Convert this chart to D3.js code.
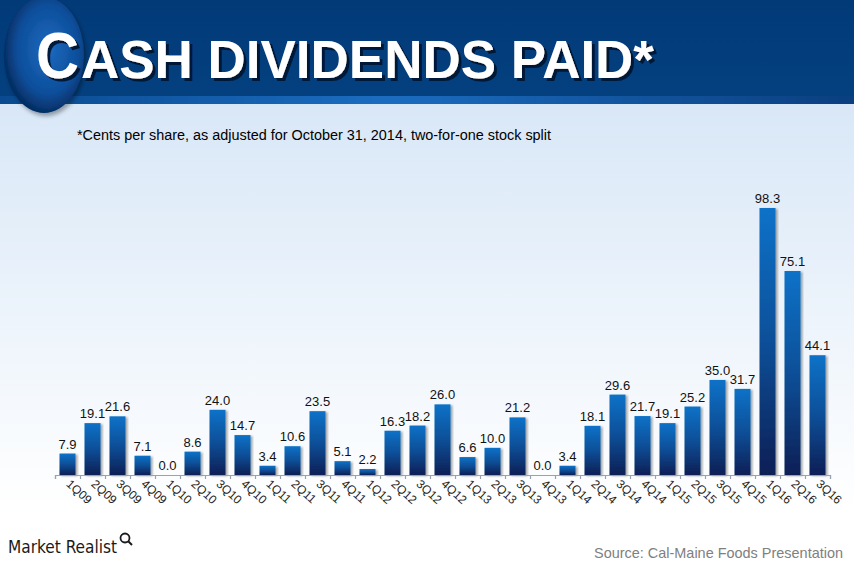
<!DOCTYPE html>
<html><head><meta charset="utf-8">
<script src="https://cdn.jsdelivr.net/npm/d3@7"></script>
<style>body{margin:0;padding:0;overflow:hidden;background:#fff}</style>
</head><body><svg id="chart" width="854" height="570"></svg>
<script>
const categories = ["1Q09","2Q09","3Q09","4Q09","1Q10","2Q10","3Q10","4Q10","1Q11","2Q11","3Q11","4Q11","1Q12","2Q12","3Q12","4Q12","1Q13","2Q13","3Q13","4Q13","1Q14","2Q14","3Q14","4Q14","1Q15","2Q15","3Q15","4Q15","1Q16","2Q16","3Q16"];
const values = [7.9,19.1,21.6,7.1,0.0,8.6,24.0,14.7,3.4,10.6,23.5,5.1,2.2,16.3,18.2,26.0,6.6,10.0,21.2,0.0,3.4,18.1,29.6,21.7,19.1,25.2,35.0,31.7,98.3,75.1,44.1];
const titleFirst = "C";
const titleRest = "ASH DIVIDENDS PAID*";
const subtitle = "*Cents per share, as adjusted for October 31, 2014, two-for-one stock split";
const source = "Source: Cal-Maine Foods Presentation";
const brand = "Market Realist";

const svg = d3.select("#chart");
const defs = svg.append("defs");

const bg = defs.append("linearGradient").attr("id","bg").attr("x1",0).attr("y1",0).attr("x2",0).attr("y2",1);
bg.append("stop").attr("offset","0%").attr("stop-color","#d8e7f7");
bg.append("stop").attr("offset","100%").attr("stop-color","#ffffff");

const hdr = defs.append("linearGradient").attr("id","hdr").attr("x1",0).attr("y1",0).attr("x2",0).attr("y2",1);
hdr.append("stop").attr("offset","0%").attr("stop-color","#023a78");
hdr.append("stop").attr("offset","100%").attr("stop-color","#04407f");

const stripe = defs.append("linearGradient").attr("id","stripe").attr("x1",0).attr("y1",0).attr("x2",1).attr("y2",0);
stripe.append("stop").attr("offset","0%").attr("stop-color","#0a4a90");
stripe.append("stop").attr("offset","45%").attr("stop-color","#1b6cc0");
stripe.append("stop").attr("offset","100%").attr("stop-color","#0a3f80");

const orb = defs.append("radialGradient").attr("id","orb").attr("cx","55%").attr("cy","45%").attr("r","55%");
orb.append("stop").attr("offset","0%").attr("stop-color","#1d6ac0");
orb.append("stop").attr("offset","70%").attr("stop-color","#0c4e9a");
orb.append("stop").attr("offset","100%").attr("stop-color","#052e64");

const barG = defs.append("linearGradient").attr("id","barg").attr("x1",0).attr("y1",0).attr("x2",0).attr("y2",1);
barG.append("stop").attr("offset","0%").attr("stop-color","#0a72c8");
barG.append("stop").attr("offset","50%").attr("stop-color","#0a4f98");
barG.append("stop").attr("offset","100%").attr("stop-color","#071f55");

const sh = defs.append("filter").attr("id","sh").attr("x","-20%").attr("y","-20%").attr("width","140%").attr("height","140%");
sh.append("feGaussianBlur").attr("in","SourceAlpha").attr("stdDeviation",1.2).attr("result","b");
sh.append("feOffset").attr("dx",2).attr("dy",1).attr("result","o");
sh.append("feComponentTransfer").append("feFuncA").attr("type","linear").attr("slope",0.35);
const mg = sh.append("feMerge"); mg.append("feMergeNode"); mg.append("feMergeNode").attr("in","SourceGraphic");

const tsh = defs.append("filter").attr("id","tsh").attr("x","-10%").attr("y","-20%").attr("width","120%").attr("height","150%");
tsh.append("feDropShadow").attr("dx",3).attr("dy",3).attr("stdDeviation",0.6).attr("flood-color","#061530").attr("flood-opacity",0.95);

const osh = defs.append("filter").attr("id","osh").attr("x","-30%").attr("y","-30%").attr("width","160%").attr("height","160%");
osh.append("feDropShadow").attr("dx",2).attr("dy",3).attr("stdDeviation",2).attr("flood-color","#000").attr("flood-opacity",0.35);

// background
svg.append("rect").attr("x",0).attr("y",100).attr("width",854).attr("height",410).attr("fill","url(#bg)");
svg.append("rect").attr("x",0).attr("y",510).attr("width",854).attr("height",60).attr("fill","#ffffff");
// header
svg.append("rect").attr("x",0).attr("y",0).attr("width",854).attr("height",98).attr("fill","url(#hdr)");
svg.append("rect").attr("x",0).attr("y",96).attr("width",854).attr("height",8).attr("fill","url(#stripe)");
svg.append("ellipse").attr("cx",44).attr("cy",55).attr("rx",40).attr("ry",58).attr("fill","url(#orb)").attr("filter","url(#osh)");

// title
const tg = svg.append("g").attr("font-family","Arial,'Liberation Sans',sans-serif").attr("font-weight","bold").attr("fill","#ffffff").attr("filter","url(#tsh)");
tg.append("text").attr("x",36).attr("y",78).attr("font-size",64).attr("textLength",43).attr("lengthAdjust","spacingAndGlyphs").text(titleFirst);
tg.append("text").attr("x",81).attr("y",78).attr("font-size",53).attr("textLength",573).attr("lengthAdjust","spacingAndGlyphs").text(titleRest);

svg.append("text").attr("x",77).attr("y",140).attr("font-family","Arial,'Liberation Sans',sans-serif").attr("font-size",14).attr("fill","#000")
  .attr("textLength",474).attr("lengthAdjust","spacingAndGlyphs").text(subtitle);

// chart
const x = d3.scaleBand().domain(categories).range([55,830]).paddingInner(0.36).paddingOuter(0.18);
const y = d3.scaleLinear().domain([0,98.3]).range([475,208]);

const g = svg.append("g");
g.selectAll("rect.bar").data(values).enter().append("rect").attr("class","bar")
  .attr("x",(d,i)=>x(categories[i])).attr("width",x.bandwidth())
  .attr("y",d=>y(d)).attr("height",d=>y(0)-y(d)).attr("fill","url(#barg)").attr("filter","url(#sh)");

g.selectAll("text.val").data(values).enter().append("text").attr("class","val")
  .attr("x",(d,i)=>x(categories[i])+x.bandwidth()/2).attr("y",d=>y(d)-5)
  .attr("text-anchor","middle").attr("font-family","Arial,'Liberation Sans',sans-serif").attr("font-size",13).attr("fill","#111")
  .text(d=>d.toFixed(1));

// axis
const axisScale = d3.scaleLinear().domain([0,categories.length]).range([55,830]);
const ax = svg.append("g").attr("transform","translate(0,475)")
  .call(d3.axisBottom(axisScale).tickValues(d3.range(categories.length+1)).tickSize(4).tickFormat(""));
ax.select(".domain").attr("stroke","#9aa3ad").attr("stroke-width",1.2);
ax.selectAll(".tick line").attr("stroke","#9aa3ad").attr("stroke-width",1.2);

svg.append("g").selectAll("text.xl").data(categories).enter().append("text").attr("class","xl")
  .attr("transform",(d)=>`translate(${x(d)+x.bandwidth()/2-2},${485}) rotate(42)`)
  .attr("font-family","Arial,'Liberation Sans',sans-serif").attr("font-size",12).attr("fill","#222")
  .text(d=>d);

// footer
svg.append("text").attr("x",8).attr("y",553).attr("font-family","'DejaVu Sans Condensed','Liberation Sans Narrow',Arial,sans-serif").attr("font-size",18).attr("fill","#1a1a1a")
  .attr("textLength",109).attr("lengthAdjust","spacingAndGlyphs").text(brand);
const mag = svg.append("g").attr("transform","translate(125,538)");
mag.append("circle").attr("r",4.5).attr("fill","none").attr("stroke","#1a1a1a").attr("stroke-width",1.8);
mag.append("line").attr("x1",3).attr("y1",3).attr("x2",7).attr("y2",7).attr("stroke","#1a1a1a").attr("stroke-width",2);
svg.append("text").attr("x",843).attr("y",558).attr("text-anchor","end").attr("font-family","Arial,'Liberation Sans',sans-serif").attr("font-size",15).attr("fill","#808080")
  .attr("textLength",249).attr("lengthAdjust","spacingAndGlyphs").text(source);
</script></body></html>
